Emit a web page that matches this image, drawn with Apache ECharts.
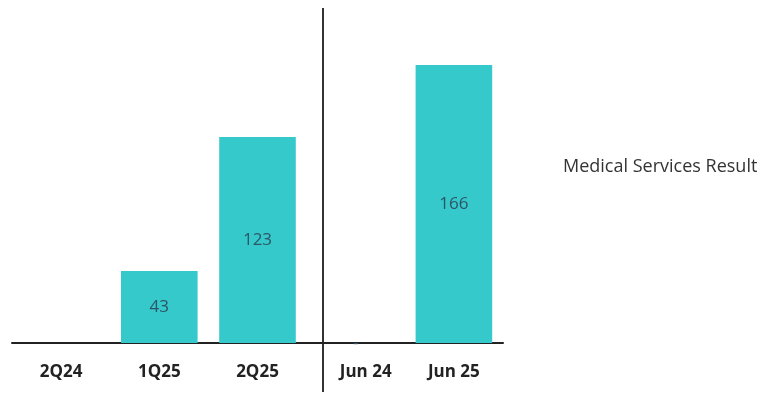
<!DOCTYPE html>
<html><head><meta charset="utf-8">
<script src="https://cdn.jsdelivr.net/npm/echarts@6/dist/echarts.min.js"></script>
<style>html,body{margin:0;padding:0;background:#fff}#c{width:763px;height:394px}</style>
</head><body><div id="c"></div>
<script>
var categories = ['2Q24', '1Q25', '2Q25', 'Jun 24', 'Jun 25'];
var values = [0, 43, 123, 0, 166];
var valueLabels = ['', '43', '123', '-', '166'];
var seriesName = 'Medical Services Result';

var chart = echarts.init(document.getElementById('c'));
chart.setOption({
  animation: false,
  grid: { left: 12, right: 260, top: 8, bottom: 51 },
  legend: {
    data: [{ name: seriesName, icon: 'none' }],
    left: 553, top: 153, itemWidth: 0, itemHeight: 0,
    textStyle: { fontFamily: 'Open Sans', fontSize: 18, color: '#333' }
  },
  xAxis: {
    type: 'category',
    data: categories.map(function (c) {
      return c === 'Jun 24' ? { value: c, textStyle: { padding: [0, 0, 0, 20] } } : c;
    }),
    axisLine: { lineStyle: { color: '#222', width: 2 } },
    axisTick: { show: false },
    axisLabel: { margin: 21, fontFamily: 'Open Sans', fontWeight: 'bold', fontSize: 17, color: '#222' }
  },
  yAxis: { type: 'value', min: 0, max: 200, show: false, splitLine: { show: false } },
  series: [{
    name: seriesName, type: 'bar', data: values, barWidth: '78%',
    itemStyle: { color: '#35C9CC' },
    label: {
      show: true, position: 'inside',
      formatter: function (p) { return valueLabels[p.dataIndex]; },
      fontFamily: 'Open Sans', fontSize: 17, color: '#2E5563'
    }
  }],
  graphic: [{
    type: 'line', shape: { x1: 323, y1: 8, x2: 323, y2: 392 },
    style: { stroke: '#333', lineWidth: 2 }
  }]
});
</script></body></html>
